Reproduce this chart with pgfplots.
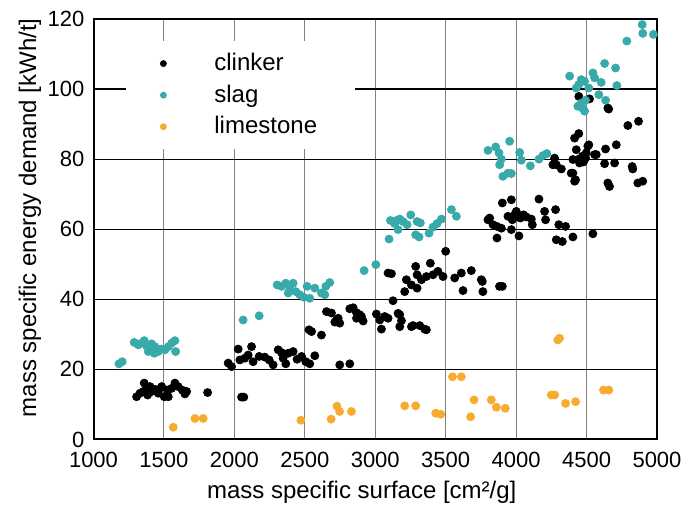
\documentclass[border=0pt]{standalone}
\usepackage{fontspec}
\setmainfont{Liberation Sans}
\usepackage{pgfplots}
\pgfplotsset{compat=1.18}
\definecolor{slagc}{RGB}{56,170,170}
\definecolor{limec}{RGB}{247,172,48}

\begin{document}
\begin{tikzpicture}
\useasboundingbox (-46.75pt,-33.25pt) rectangle (300.25pt,219.75pt);
\begin{axis}[
    at={(0pt,0pt)}, anchor=south west,
    scale only axis, width=281.75pt, height=210.25pt,
    xmin=1000, xmax=5000, ymin=0, ymax=120,
    xtick={1000,1500,...,5000}, ytick={0,20,...,120},
    major tick length=0pt,
    grid=major,
    major x grid style={gray, line width=0.5pt},
    major y grid style={black, line width=0.6pt},
    axis line style={black, line width=1pt},
    ticklabel style={font=\fontsize{11}{12}\selectfont},
    xticklabel style={yshift=-3pt},
    yticklabel style={xshift=-1pt},
    /pgf/number format/assume math mode=true,
    /pgf/number format/1000 sep={},
    xlabel={mass specific surface [cm²/g]},
    ylabel={mass specific energy demand [kWh/t]},
    label style={font=\fontsize{12}{14}\selectfont},
    xlabel style={at={(axis description cs:0.476,-0.125)}, anchor=center},
    ylabel style={at={(axis description cs:-0.1127,0.527)}, anchor=center},
    legend style={at={(axis description cs:0,1)}, anchor=north west,
        xshift=16.25pt, yshift=-11pt, draw=none, fill=white,
        font=\fontsize{12}{14}\selectfont, inner xsep=17pt, inner ysep=4pt,
        row sep=1.6pt, /tikz/every odd column/.append style={column sep=22pt}},
    legend cell align=left,
    legend image code/.code={\draw[#1, mark size=1.5pt] plot coordinates {(0pt,0pt)};},
]
% clinker
\addplot[only marks, mark=*, mark size=2pt, black] coordinates {
(1306,12.2)(1330,13.2)(1353,13.7)(1360,16.1)(1377,14.3)(1384,12.7)(1401,15.1)(1413,13.7)
(1436,14.3)(1460,13.2)(1465,14.3)(1484,15.1)(1502,12.2)(1526,14.1)(1531,12.2)(1555,14.6)
(1578,16.1)(1601,15.1)(1630,14.1)(1649,13)(1661,13.7)(1810,13.4)(2051,12.1)(2067,12.1)
(1956,21.8)(1980,20.8)(2027,25.8)(2039,22.7)(2074,23.2)(2098,24.1)(2122,26.5)(2133,22.2)
(2176,23.7)(2216,23.5)(2247,22.7)(2275,21.3)(2311,25.6)(2335,24.8)(2346,23.2)(2365,21.6)
(2382,24.6)(2417,25.1)(2445,22.9)(2477,23.7)(2507,22.2)(2535,21.6)(2571,23.9)(2748,21.3)(2819,21.6)
(2530,31.3)(2548,30.8)(2618,29.8)(2654,36.5)(2689,36.1)(2713,33.5)(2725,34.1)(2737,34.6)
(2748,33.2)(2819,37.3)(2843,37.6)(2867,36.2)(2867,34.6)(2890,35.6)(2902,35.1)(2914,33.8)
(3008,35.8)(3032,34.1)(3044,31.5)(3067,35.1)(3091,34.6)(3162,36)(3174,35.6)(3186,33.9)
(3174,32.2)(3257,32.2)(3268,32.5)(3316,32.5)(3351,31.5)(3363,31.3)(3126,39.6)
(3091,47.5)(3115,47.3)(3209,42.2)(3221,45.6)(3257,44.1)(3287,49.4)(3297,47)(3297,43.2)
(3328,45.6)(3363,46.5)(3391,50.3)(3410,47)(3445,48)(3481,46.5)(3500,53.7)(3564,46.1)
(3611,47.5)(3623,42.5)(3682,48.2)(3753,45.6)(3764,42.2)(3760,45.1)(3882,43.7)(3902,43.7)
(3800,62.7)(3812,63.2)(3836,61.3)(3864,60.8)(3864,57.5)(3895,60.3)(3902,67.5)(3942,63.7)
(3966,68.4)(3966,59.9)(3973,62.7)(3989,64.1)(4001,65.1)(4013,63.5)(4020,58.1)(4030,63.2)
(4053,64.1)(4073,63.5)(4108,62.9)(4115,61.3)(4162,68.6)(4202,65.1)(4209,62.7)(4280,65.6)
(4285,57)(4303,61.3)(4328,56.5)(4351,60.8)(4403,57.8)(4545,58.7)
(4261,78.4)(4273,80.3)(4285,78.4)(4321,77.2)(4391,76)(4403,76)(4415,73.7)(4422,74.1)
(4403,79.9)(4427,82.7)(4438,79.9)(4450,78.9)(4462,79.4)(4469,80.8)(4478,79.2)(4493,80.3)
(4498,81.8)(4509,83.7)(4516,84.1)(4557,81.3)(4569,81.3)(4628,78.7)(4635,82.9)(4651,73.2)
(4663,72.2)(4699,78.9)(4711,84.1)(4824,77.9)(4828,77.2)(4864,73.2)(4899,73.7)(4793,89.6)
(4869,90.8)(4415,86)(4445,87.3)(4445,97.9)(4521,97.2)(4651,94.6)(4657,94.3)
};
\addlegendentry{clinker}
% slag
\addplot[only marks, mark=*, mark size=2pt, slagc] coordinates {
(1181,21.6)(1204,22.2)(1289,27.7)(1318,27)(1340,27.5)(1360,28.2)(1377,26.7)(1389,25.1)
(1394,26)(1413,27.3)(1431,24.6)(1436,26.5)(1460,25.1)(1479,25.8)(1507,25.6)(1531,26.5)
(1555,27.5)(1578,28.2)(1583,25.1)
(2062,34.1)(2176,35.3)
(2304,44.1)(2335,43.7)(2365,44.6)(2382,41.8)(2394,42.9)(2417,44.6)(2436,42.2)(2465,41.3)
(2493,40.6)(2516,43.7)(2535,40.3)(2571,43.2)(2618,41.8)(2642,41.3)(2649,43.7)(2677,44.8)
(2921,48.2)(3004,49.9)
(3098,57.2)(3108,62.5)(3138,61.6)(3150,62.5)(3162,59.9)(3174,62.9)(3197,62.2)(3226,61.3)
(3252,64.1)(3287,58.4)(3297,62.2)(3311,57.8)(3320,61.8)(3382,58.9)(3410,60.6)(3438,61.6)
(3470,62.9)(3541,65.6)(3576,63.7)
(3800,82.5)(3855,83.5)(3878,81.8)(3883,78.4)(3895,80)(3906,75.1)(3942,76)(3954,85.1)
(3966,75.9)(4025,81.9)(4037,79.7)(4101,78.1)(4162,80)(4190,81)(4218,81.6)
(4380,103.7)(4427,100.3)(4438,95.1)(4445,101.3)(4462,102.7)(4462,96)(4469,94.6)(4486,102.2)
(4486,93.7)(4493,96.8)(4516,100.3)(4545,104.6)(4557,103.2)(4587,98.4)(4604,101.9)(4628,107.3)
(4635,96.8)(4706,106)(4715,101)(4786,113.7)(4895,118.4)(4899,115.9)(4975,115.6)
};
\addlegendentry{slag}
% limestone
\addplot[only marks, mark=*, mark size=2pt, limec] coordinates {
(1566,3.5)(1720,6)(1779,6)(2472,5.5)(2687,5.8)(2728,9.5)(2747,8)(2831,8)
(3209,9.6)(3287,9.6)(3429,7.5)(3465,7.2)(3548,17.9)(3611,17.9)(3677,6.5)(3701,11.3)
(3824,11.3)(3860,9.2)(3923,8.9)(4250,12.7)(4273,12.7)(4296,28.4)(4308,28.9)(4351,10.3)
(4422,10.8)(4620,14.1)(4658,14.1)
};
\addlegendentry{limestone}
\end{axis}
\end{tikzpicture}
\end{document}
